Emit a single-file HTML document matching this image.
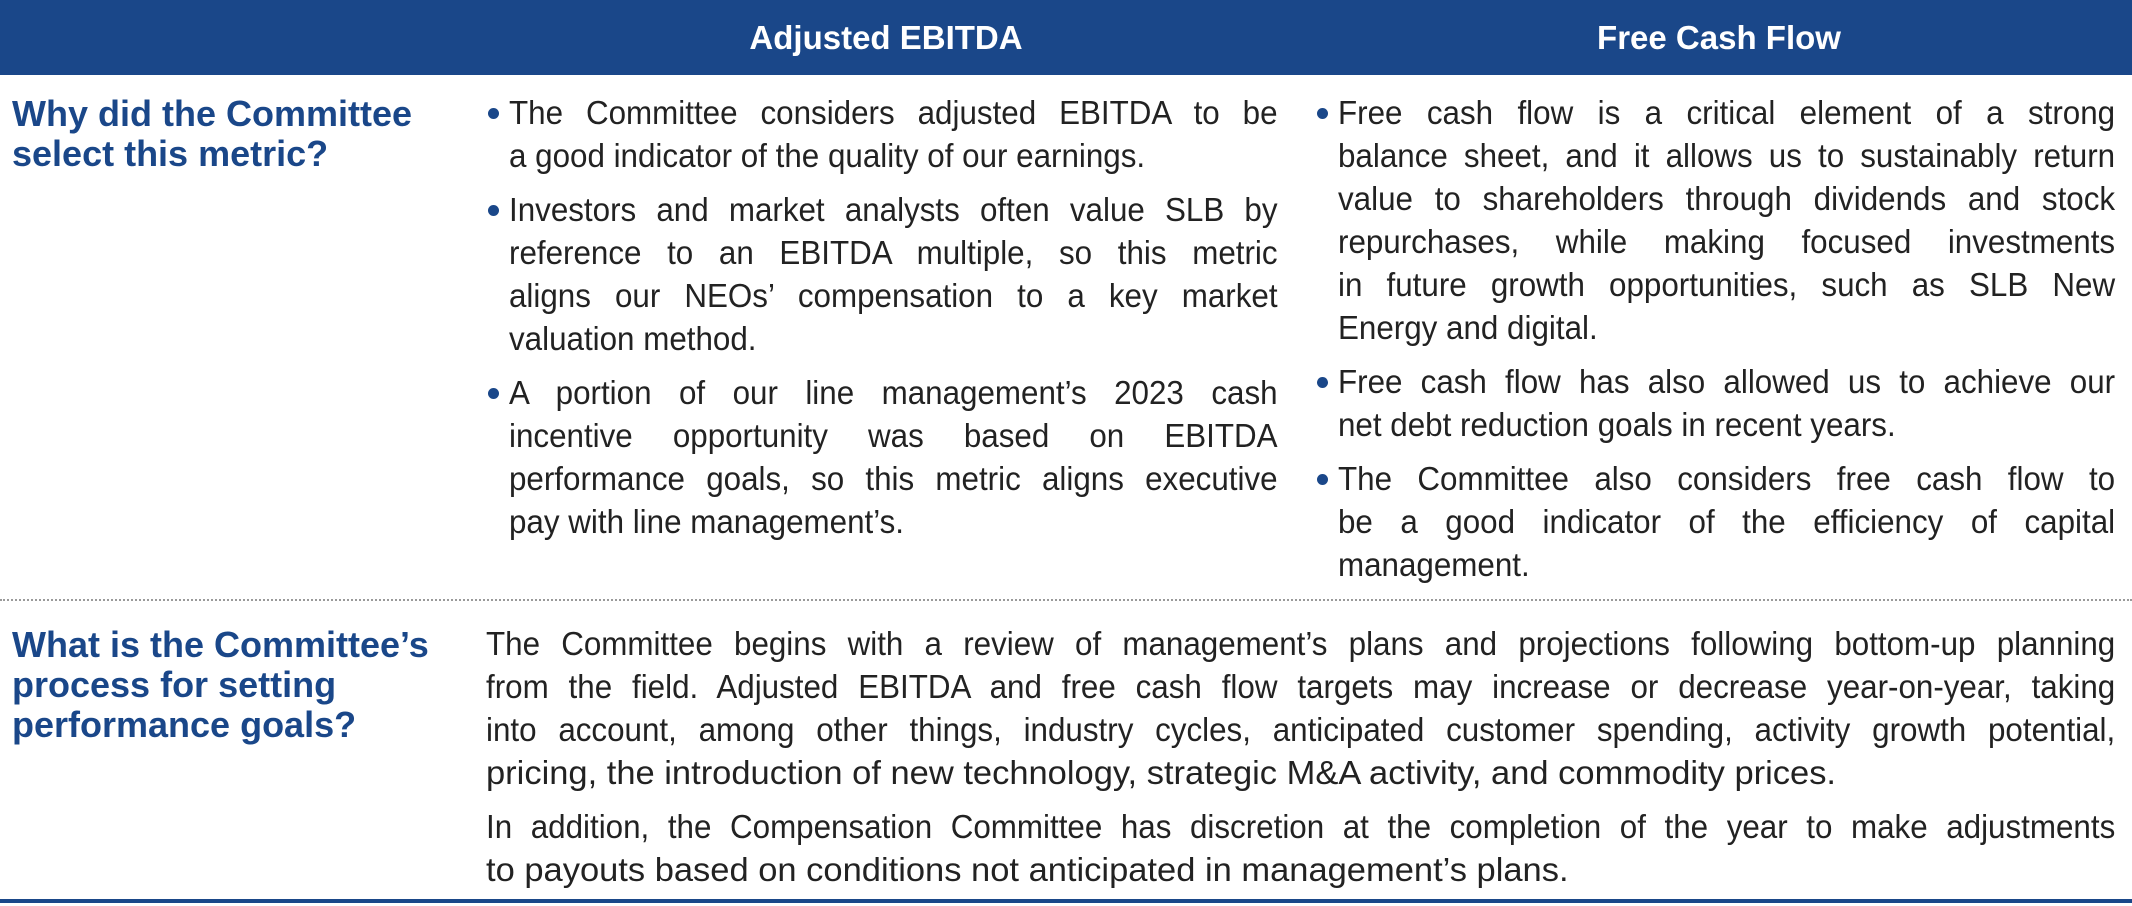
<!DOCTYPE html>
<html><head><meta charset="utf-8">
<style>
html,body{margin:0;padding:0;background:#fff;}
#page{position:relative;width:2132px;height:906px;overflow:hidden;background:#fff;font-family:"Liberation Sans",Arial,sans-serif;}
.hdr{position:absolute;left:0;top:0;width:2132px;height:75px;background:#1a4789;}
.ht{position:absolute;top:0;height:75px;line-height:75px;color:#fff;font-weight:bold;font-size:33px;text-align:center;width:500px;}
.lbl{position:absolute;left:12px;color:#1a4789;font-weight:bold;font-size:36px;line-height:40px;white-space:nowrap;}
.ln{position:absolute;font-size:33px;line-height:40px;height:40px;color:#222;white-space:nowrap;transform:scaleX(0.95);transform-origin:left top;overflow:visible;}
.wide{transform:scaleX(1.045);}
.j{text-align:justify;text-align-last:justify;white-space:normal;}
.b{position:absolute;width:11px;height:11px;border-radius:50%;background:#1a4789;}
.dots{position:absolute;left:0;top:599px;width:2132px;height:0;border-top:2px dotted #9a9a9a;}
.rule{position:absolute;left:0;top:899px;width:2132px;height:4px;background:#1a4789;}
</style></head><body>
<div id="page">
<div class="hdr">
  <div class="ht" style="left:636px">Adjusted EBITDA</div>
  <div class="ht" style="left:1469px">Free Cash Flow</div>
</div>

<div class="lbl" style="top:94px">Why did the Committee<br>select this metric?</div>

<div>
<div class="b" style="left:488px;top:108px"></div>
<div class="ln j" style="left:509px;top:93px;width:809px">The Committee considers adjusted EBITDA to be</div>
<div class="ln" style="left:509px;top:136px;width:809px">a good indicator of the quality of our earnings.</div>
<div class="b" style="left:488px;top:205px"></div>
<div class="ln j" style="left:509px;top:190px;width:809px">Investors and market analysts often value SLB by</div>
<div class="ln j" style="left:509px;top:233px;width:809px">reference to an EBITDA multiple, so this metric</div>
<div class="ln j" style="left:509px;top:276px;width:809px">aligns our NEOs’ compensation to a key market</div>
<div class="ln" style="left:509px;top:319px;width:809px">valuation method.</div>
<div class="b" style="left:488px;top:388px"></div>
<div class="ln j" style="left:509px;top:373px;width:809px">A portion of our line management’s 2023 cash</div>
<div class="ln j" style="left:509px;top:416px;width:809px">incentive opportunity was based on EBITDA</div>
<div class="ln j" style="left:509px;top:459px;width:809px">performance goals, so this metric aligns executive</div>
<div class="ln" style="left:509px;top:502px;width:809px">pay with line management’s.</div>
</div>

<div>
<div class="b" style="left:1317px;top:108px"></div>
<div class="ln j" style="left:1338px;top:93px;width:818px">Free cash flow is a critical element of a strong</div>
<div class="ln j" style="left:1338px;top:136px;width:818px">balance sheet, and it allows us to sustainably return</div>
<div class="ln j" style="left:1338px;top:179px;width:818px">value to shareholders through dividends and stock</div>
<div class="ln j" style="left:1338px;top:222px;width:818px">repurchases, while making focused investments</div>
<div class="ln j" style="left:1338px;top:265px;width:818px">in future growth opportunities, such as SLB New</div>
<div class="ln" style="left:1338px;top:308px;width:818px">Energy and digital.</div>
<div class="b" style="left:1317px;top:377px"></div>
<div class="ln j" style="left:1338px;top:362px;width:818px">Free cash flow has also allowed us to achieve our</div>
<div class="ln" style="left:1338px;top:405px;width:818px">net debt reduction goals in recent years.</div>
<div class="b" style="left:1317px;top:474px"></div>
<div class="ln j" style="left:1338px;top:459px;width:818px">The Committee also considers free cash flow to</div>
<div class="ln j" style="left:1338px;top:502px;width:818px">be a good indicator of the efficiency of capital</div>
<div class="ln" style="left:1338px;top:545px;width:818px">management.</div>
</div>

<div class="dots"></div>

<div class="lbl" style="top:625px">What is the Committee’s<br>process for setting<br>performance goals?</div>

<div>
<div class="ln j" style="left:486px;top:624px;width:1715px">The Committee begins with a review of management’s plans and projections following bottom-up planning</div>
<div class="ln j" style="left:486px;top:667px;width:1715px">from the field. Adjusted EBITDA and free cash flow targets may increase or decrease year-on-year, taking</div>
<div class="ln j" style="left:486px;top:710px;width:1715px">into account, among other things, industry cycles, anticipated customer spending, activity growth potential,</div>
<div class="ln wide" style="left:486px;top:753px;width:1559px">pricing, the introduction of new technology, strategic M&amp;A activity, and commodity prices.</div>
<div class="ln j" style="left:486px;top:807px;width:1715px">In addition, the Compensation Committee has discretion at the completion of the year to make adjustments</div>
<div class="ln wide" style="left:486px;top:850px;width:1559px">to payouts based on conditions not anticipated in management’s plans.</div>
</div>

<div class="rule"></div>
</div>
</body></html>
